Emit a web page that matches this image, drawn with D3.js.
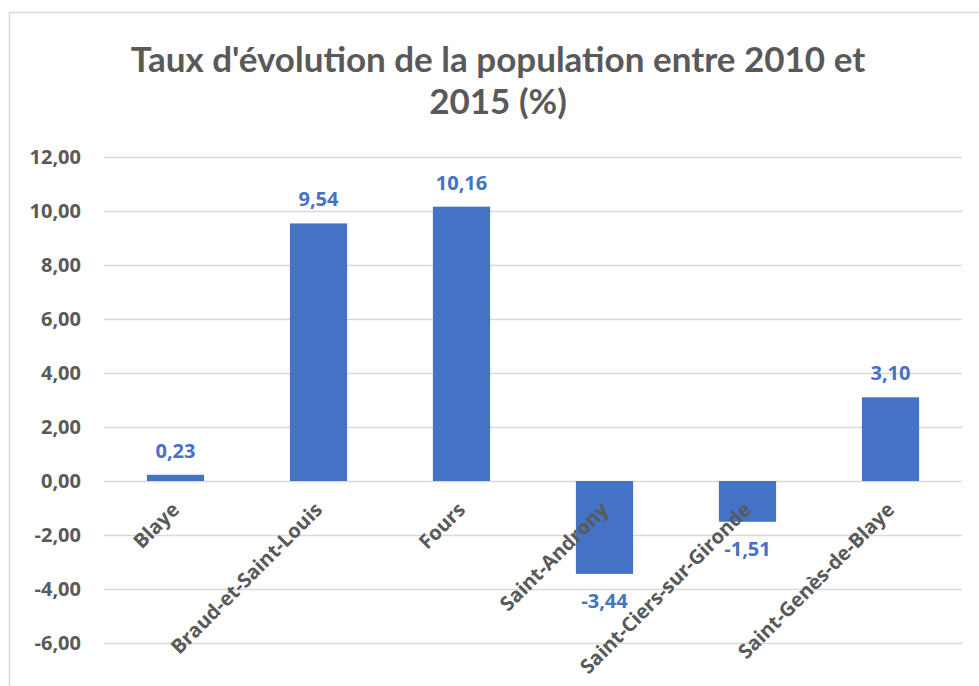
<!DOCTYPE html>
<html>
<head>
<meta charset="utf-8">
<script src="https://cdn.jsdelivr.net/npm/d3@7"></script>
<style>
  body { margin: 0; background: #fff; }
</style>
</head>
<body>
<div id="chart-area"></div>
<script>
// data
let communes = ["Blaye", "Braud-et-Saint-Louis", "Fours", "Saint-Androny", "Saint-Ciers-sur-Gironde", "Saint-Genès-de-Blaye"];
let taux = [0.23, 9.54, 10.16, -3.44, -1.51, 3.10];
let yTicks = [-6, -4, -2, 0, 2, 4, 6, 8, 10, 12];
let titleLines = ["Taux d'évolution de la population entre 2010 et", "2015 (%)"];

let W = 979, H = 686;
let plot = {left: 104, right: 962, top: 157, bottom: 643};
let labelFont = "'Open Sans', Lato, sans-serif";

let fmt = v => d3.format(".2f")(v).replace(".", ",").replace("−", "-");

let svg = d3.select("#chart-area")
    .append("svg")
        .attr("width", W)
        .attr("height", H)
        .style("font-family", labelFont);

// chart frame
svg.append("rect")
    .attr("x", 9.5)
    .attr("y", 12.5)
    .attr("width", W)
    .attr("height", H)
    .attr("fill", "#fff")
    .attr("stroke", "#d9d9d9")
    .attr("stroke-width", 1.5);

// title
svg.append("g")
    .selectAll("text")
    .data(titleLines)
    .enter()
    .append("text")
        .attr("x", 498)
        .attr("y", (d, i) => 72 + i * 42)
        .attr("text-anchor", "middle")
        .attr("font-family", "Lato, sans-serif")
        .attr("font-size", "35px")
        .attr("font-weight", "bold")
        .attr("fill", "#595959")
        .text(d => d);

let x = d3.scaleBand()
    .domain(communes)
    .range([plot.left, plot.right])
    .paddingInner(0.6)
    .paddingOuter(0.3);

let y = d3.scaleLinear()
    .domain([-6, 12])
    .range([plot.bottom, plot.top]);

// gridlines + y labels
let yAxisCall = d3.axisLeft(y)
    .tickValues(yTicks)
    .tickSize(-(plot.right - plot.left))
    .tickPadding(23)
    .tickFormat(fmt);

let yAxisGroup = svg.append("g")
    .attr("class", "y-axis")
    .attr("transform", "translate(" + plot.left + ", 0)")
    .call(yAxisCall);

yAxisGroup.select(".domain").remove();
yAxisGroup.selectAll("line")
    .attr("stroke", "#d9d9d9")
    .attr("stroke-width", 1.5);
yAxisGroup.selectAll("text")
    .attr("fill", "#595959")
    .attr("font-size", "20px")
    .attr("font-weight", "bold")
    .attr("font-family", labelFont);

// bars
svg.selectAll(".bar")
    .data(taux)
    .enter()
    .append("rect")
        .attr("class", "bar")
        .attr("x", (d, i) => x(communes[i]))
        .attr("width", x.bandwidth())
        .attr("y", d => y(Math.max(0, d)))
        .attr("height", d => Math.abs(y(d) - y(0)))
        .attr("fill", "#4472c4");

// category labels, rotated
let xAxisCall = d3.axisBottom(x).tickSize(0).tickPadding(0);
let xAxisGroup = svg.append("g")
    .attr("class", "x-axis")
    .attr("transform", "translate(0, " + y(0) + ")")
    .call(xAxisCall);
xAxisGroup.select(".domain").remove();
xAxisGroup.selectAll("text")
    .attr("fill", "#595959")
    .attr("font-size", "20px")
    .attr("font-weight", "bold")
    .attr("font-family", labelFont)
    .attr("text-anchor", "end")
    .attr("dy", "0")
    .attr("y", 0)
    .attr("transform", "translate(5, 30) rotate(-45)");

// data labels
svg.selectAll(".val")
    .data(taux)
    .enter()
    .append("text")
        .attr("class", "val")
        .attr("x", (d, i) => x(communes[i]) + x.bandwidth() / 2)
        .attr("y", d => d >= 0 ? y(d) - 17 : y(d) + 34)
        .attr("text-anchor", "middle")
        .attr("font-size", "20px")
        .attr("font-weight", "bold")
        .attr("fill", "#4472c4")
        .text(fmt);
</script>
</body>
</html>
